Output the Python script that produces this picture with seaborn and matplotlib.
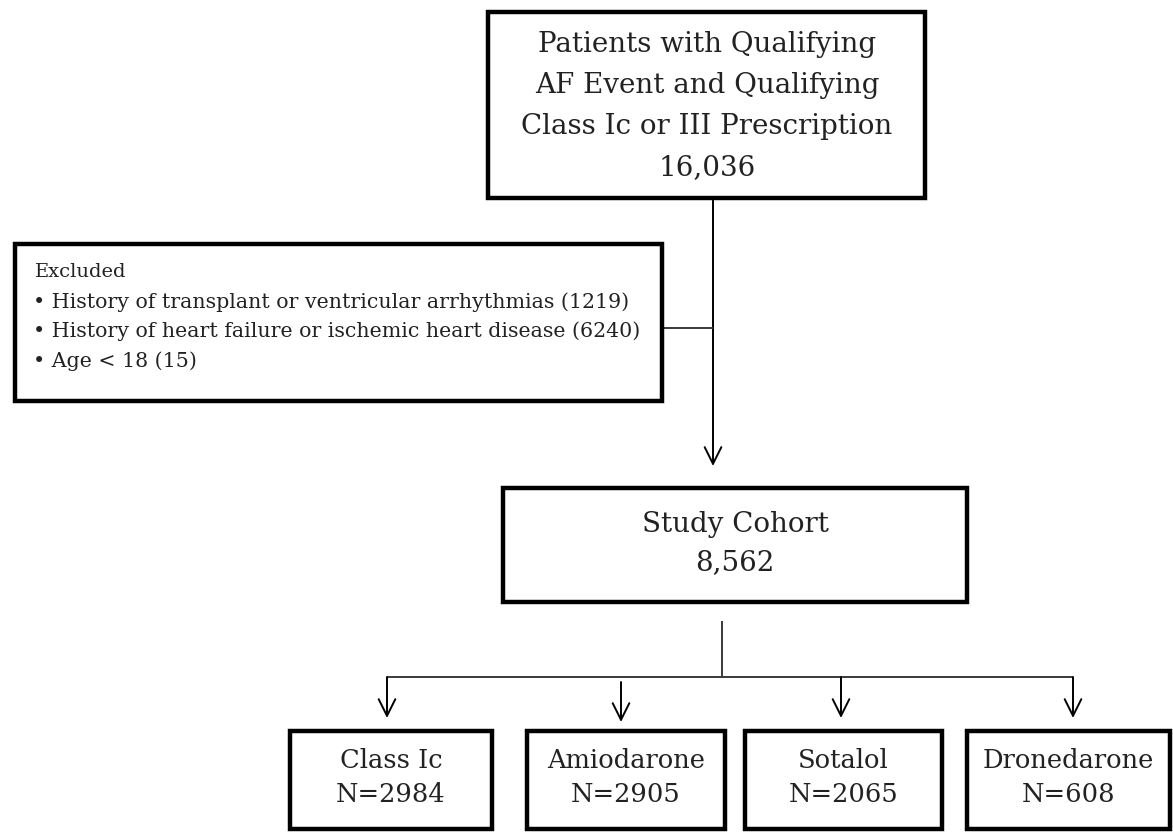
import matplotlib
matplotlib.use("Agg")
import matplotlib.pyplot as plt
from matplotlib.patches import Rectangle
import seaborn as sns

# ---- data ----
source_lines = ["Patients with Qualifying", "AF Event and Qualifying", "Class Ic or III Prescription"]
source_n = "16,036"
excluded_title = "Excluded"
excluded_reasons = ["History of transplant or ventricular arrhythmias", "History of heart failure or ischemic heart disease", "Age < 18"]
excluded_counts = [1219, 6240, 15]
cohort_label = "Study Cohort"
cohort_n = "8,562"
groups = ["Class Ic", "Amiodarone", "Sotalol", "Dronedarone"]
group_n = [2984, 2905, 2065, 608]

sns.set_theme(style="white")
plt.rcParams['font.family'] = ['DejaVu Serif']

W, H = 1173, 832
fig = plt.figure(figsize=(W / 100, H / 100), dpi=100)
ax = fig.add_axes([0, 0, 1, 1])
ax.set_xlim(0, W)
ax.set_ylim(H, 0)
ax.axis("off")

BOX_LW = 3.2
LINE_LW = 1.4
TXT = "#222222"
LINE_C = "#3a3a3a"


def box(x0, y0, x1, y1):
    ax.add_patch(Rectangle((x0, y0), x1 - x0, y1 - y0, fill=False, lw=BOX_LW, ec="black", zorder=3))


def line(xs, ys):
    ax.plot(xs, ys, color=LINE_C, lw=LINE_LW, solid_capstyle="butt", zorder=2)


def arrow(x, y0, y1):
    ax.annotate("", xy=(x, y1), xytext=(x, y0),
                arrowprops=dict(arrowstyle="->,head_length=1.0,head_width=0.5", color="black", lw=LINE_LW,
                                shrinkA=0, shrinkB=0), zorder=2)


# top box
box(488, 12, 925, 198)
for i, t in enumerate(source_lines + [source_n]):
    ax.text(707, 45 + i * 40.7, t, ha="center", va="center", fontsize=20, color=TXT)

# excluded box
box(15, 244, 662, 401)
ax.text(35, 272, excluded_title, ha="left", va="center", fontsize=14, color=TXT)
for i, (r, c) in enumerate(zip(excluded_reasons, excluded_counts)):
    ax.text(33, 302 + i * 29.5, "\u2022 " + f"{r} ({c})", ha="left", va="center", fontsize=14.8, color=TXT)

# main vertical arrow and side connector
arrow(713, 198, 466)
line([662, 713], [328, 328])

# study cohort box
box(503, 488, 967, 602)
ax.text(735, 524, cohort_label, ha="center", va="center", fontsize=20, color=TXT)
ax.text(735, 563, cohort_n, ha="center", va="center", fontsize=20, color=TXT)

# branching
line([722, 722], [621, 677])
line([387, 1073], [677, 677])
box_xs = [(290, 492), (527, 725), (745, 942), (967, 1170)]
arrow_x = [387, 621, 841, 1073]
arrow_start = [677, 682, 677, 677]
arrow_end = [718, 722, 718, 718]
for bx, axx, s, e, g, n in zip(box_xs, arrow_x, arrow_start, arrow_end, groups, group_n):
    arrow(axx, s, e)
    box(bx[0], 731, bx[1], 829)
    cx = (bx[0] + bx[1]) / 2
    ax.text(cx, 761, g, ha="center", va="center", fontsize=18.5, color=TXT)
    ax.text(cx, 795, f"N={n}", ha="center", va="center", fontsize=18.5, color=TXT)

fig.savefig("out.png", dpi=100, facecolor="white")
